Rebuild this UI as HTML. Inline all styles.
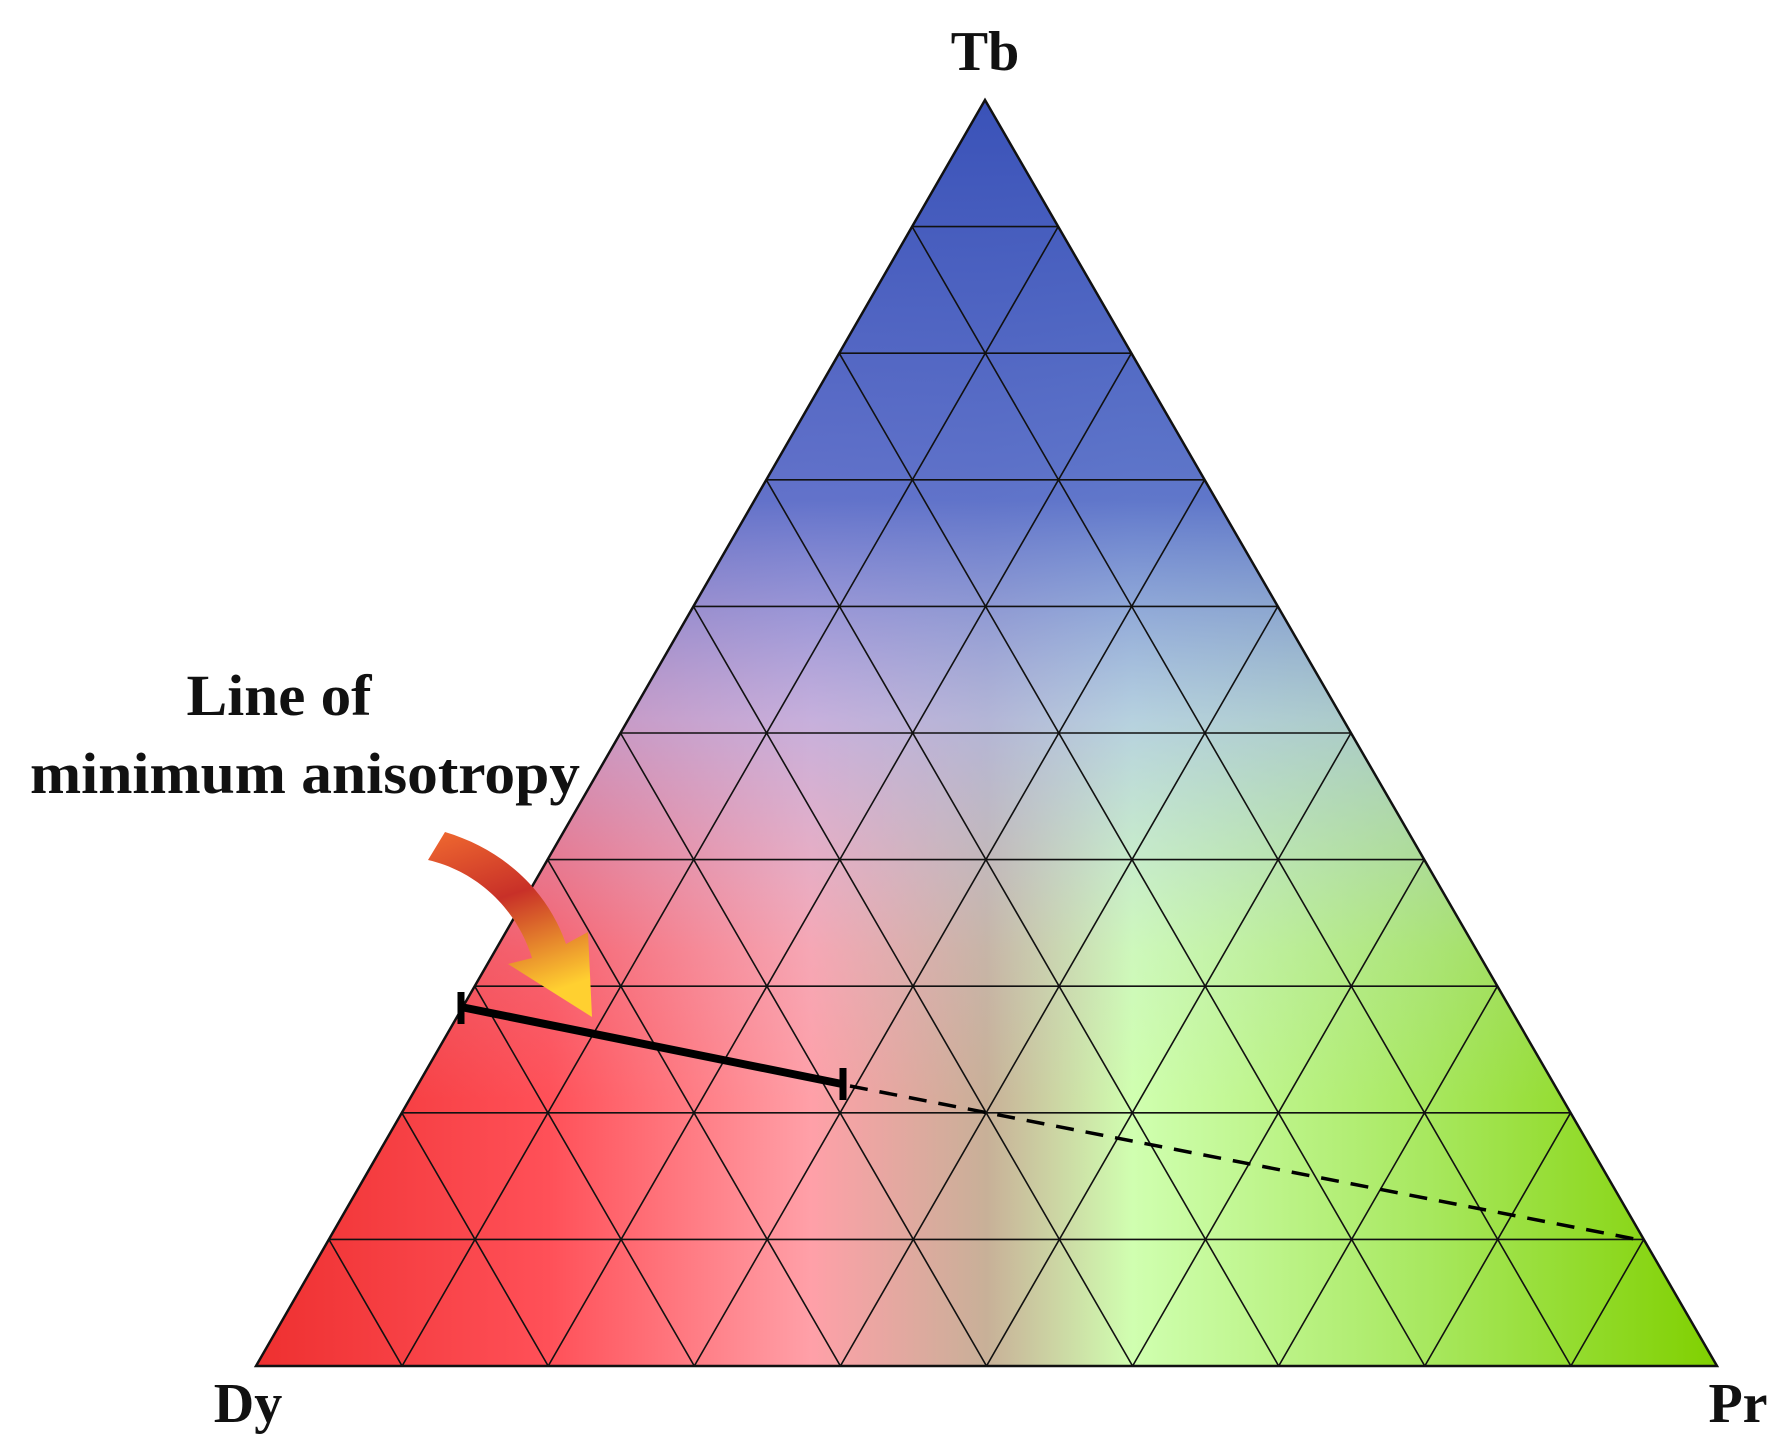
<!DOCTYPE html>
<html><head><meta charset="utf-8"><style>
html,body{margin:0;padding:0;background:#fff}
svg{display:block}
text{font-family:"Liberation Serif",serif;font-weight:bold;fill:#111}
</style></head><body>
<svg id="s" width="1785" height="1451" viewBox="0 0 1785 1451" xmlns="http://www.w3.org/2000/svg">
<defs>
<linearGradient id="h" x1="256" y1="0" x2="1717" y2="0" gradientUnits="userSpaceOnUse">
<stop offset="0" stop-color="#ee3030"/>
<stop offset="0.2" stop-color="#ff5058"/>
<stop offset="0.38" stop-color="#ffa0a8"/>
<stop offset="0.5" stop-color="#c8b098"/>
<stop offset="0.6" stop-color="#d0ffb0"/>
<stop offset="0.8" stop-color="#a8e860"/>
<stop offset="1" stop-color="#80d000"/>
</linearGradient>
<linearGradient id="v" x1="0" y1="100" x2="0" y2="1100" gradientUnits="userSpaceOnUse">
<stop offset="0" stop-color="#3a52b8" stop-opacity="1"/>
<stop offset="0.4" stop-color="#5a70cc" stop-opacity="0.95"/>
<stop offset="0.62" stop-color="#a8b8f8" stop-opacity="0.65"/>
<stop offset="0.85" stop-color="#c0d0ff" stop-opacity="0.15"/>
<stop offset="1" stop-color="#c0d0ff" stop-opacity="0"/>
</linearGradient>
<linearGradient id="ar" x1="0" y1="0" x2="0.3" y2="1">
<stop offset="0" stop-color="#f06a30"/>
<stop offset="0.45" stop-color="#c83028"/>
<stop offset="1" stop-color="#ffd030"/>
</linearGradient>
</defs>
<polygon points="985,100 256,1366 1717,1366" fill="url(#h)"/>
<polygon points="985,100 256,1366 1717,1366" fill="url(#v)"/>
<g id="g" stroke="#111" stroke-width="1.6" fill="none"></g>
<polygon points="985,100 256,1366 1717,1366" fill="none" stroke="#111" stroke-width="2.5"/>
<path d="M428,860 C480,872 518,912 532,958 L508,964 L592,1017 L588,932 L566,944 C548,892 505,850 445,832 Z" fill="url(#ar)"/>
<line x1="461" y1="1007" x2="842" y2="1084" stroke="#000" stroke-width="8"/>
<line x1="461" y1="992" x2="461" y2="1024" stroke="#000" stroke-width="7"/>
<line x1="843" y1="1068" x2="843" y2="1100" stroke="#000" stroke-width="7"/>
<line x1="850" y1="1086" x2="1645" y2="1241" stroke="#000" stroke-width="3.5" stroke-dasharray="18,12"/>
<text x="985" y="70" font-size="56" text-anchor="middle">Tb</text>
<text x="248" y="1422" font-size="56" text-anchor="middle">Dy</text>
<text x="1738" y="1422" font-size="56" text-anchor="middle">Pr</text>
<text x="279" y="715" font-size="58" text-anchor="middle" textLength="185" lengthAdjust="spacingAndGlyphs">Line of</text>
<text x="305" y="793" font-size="58" text-anchor="middle" textLength="550" lengthAdjust="spacingAndGlyphs">minimum anisotropy</text>
</svg>
<script>
var A=[985,100],D=[256,1366],R=[1717,1366];
function L(p,q,t){return [p[0]+(q[0]-p[0])*t,p[1]+(q[1]-p[1])*t];}
var g=document.getElementById('g'),h='';
for(var k=1;k<10;k++){var t=k/10;
var segs=[[L(D,A,t),L(R,A,t)],[L(D,R,t),L(R,A,1-t)],[L(D,R,t),L(D,A,t)]];
segs.forEach(function(s){h+='<line x1="'+s[0][0]+'" y1="'+s[0][1]+'" x2="'+s[1][0]+'" y2="'+s[1][1]+'"/>';});}
g.innerHTML=h;
</script>
</body></html>
